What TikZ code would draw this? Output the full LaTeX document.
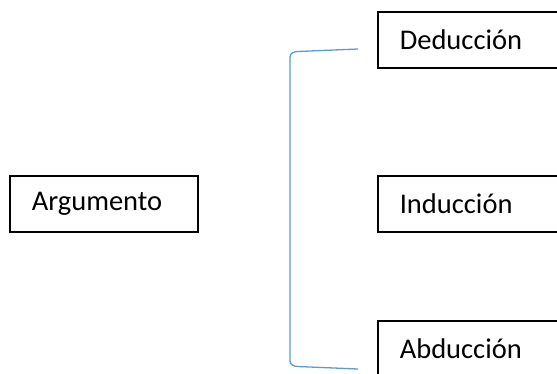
\documentclass[tikz,border=0pt]{standalone}
\usepackage{fontspec}
\setmainfont{Carlito}
\definecolor{bracketblue}{RGB}{91,155,213}
\tikzset{
  x=1pt, y=-1pt,
  termbox/.style={draw=black, line width=1.6pt, rectangle, anchor=north west,
    minimum height=56pt, inner xsep=22pt, inner ysep=0pt, align=left,
    font=\fontsize{28.5}{34}\selectfont},
  bracketline/.style={draw=bracketblue, line width=1.3pt}
}
\begin{document}
\begin{tikzpicture}
  \useasboundingbox (0,0) rectangle (557,373);
  \clip (0,0) rectangle (557,373);

  % main concept on the left
  \node[termbox, text width=144pt] (arg) at (9,175) {\raisebox{-2pt}{Argumento}};

  % three kinds of argument on the right
  \node[termbox, text width=160pt] (ded) at (377,11) {\raisebox{-2pt}{Deducción}};
  \node[termbox, text width=160pt] (ind) at (377,175) {\raisebox{-2pt}{Inducción}};
  \node[termbox, text width=160pt] (abd) at (377,320) {\raisebox{-2pt}{Abducción}};

  % bracket grouping the three kinds
  \coordinate (btop) at (358,49);
  \coordinate (bbot) at (358,369);
  \draw[bracketline] (btop) -- (298,51.5) to[out=180,in=90] (290,57)
    -- (290,361) to[out=-90,in=180] (298,366.5) -- (bbot);
\end{tikzpicture}
\end{document}
